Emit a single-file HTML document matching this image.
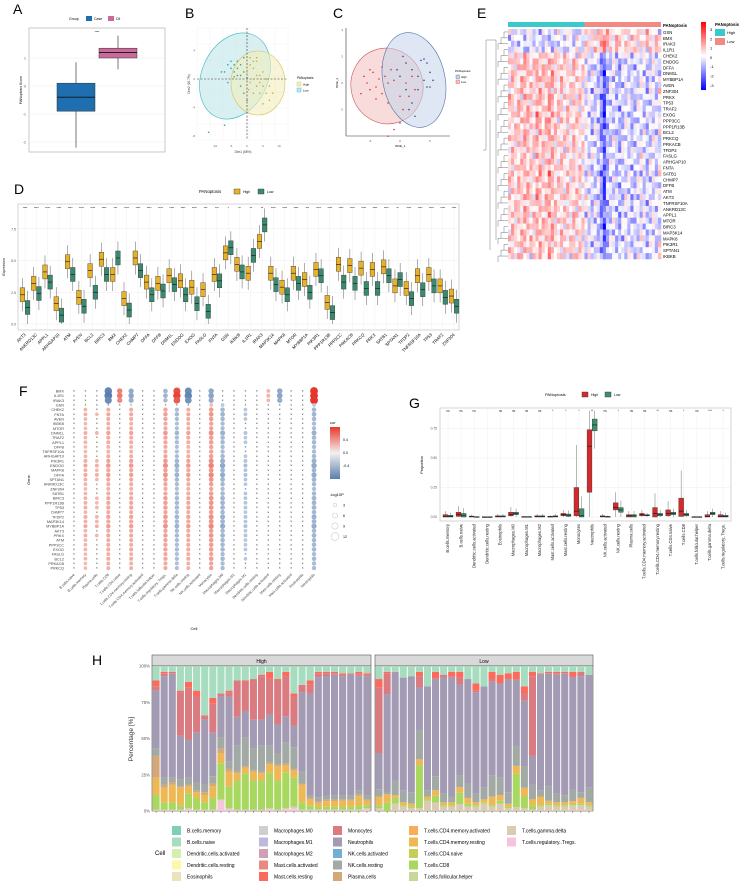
<!DOCTYPE html>
<html><head><meta charset="utf-8"><style>
html,body{margin:0;padding:0;background:#fff;}
svg{display:block;font-family:"Liberation Sans",sans-serif;}
</style></head><body>
<svg id="fig" width="752" height="885" viewBox="0 0 752 885" xmlns="http://www.w3.org/2000/svg"></svg>
<script>
// ---------- DATA ----------
const groupsA=["Case","Ctl"];
const aQ1=[-0.9,1.0], aMed=[-0.4,1.2], aQ3=[0.1,1.35], aLo=[-2.2,0.6], aHi=[0.85,1.8];
const bHigh=[[1,2],[2,1.5],[3,2.5],[4,0.5],[5,-1],[6,-2],[7,-3],[3,-1],[2,0],[1,-0.5],[4,-2],[5,1],[6,0],[0,1],[1,3],[2,-2],[3,0.5],[5,-3.5],[7,-1],[8,-2],[0.5,-1.5],[3,3],[4,-0.5],[2,2.5]];
const bLow=[[-6,2],[-7,1],[-5,1.5],[-4,1],[-3,0.5],[-2,2],[-1,1],[-3,1.5],[-4,0.3],[-2,0.5],[-1,3],[0,0.2],[-5,2.5],[-8,1],[-6,-0.5],[-2,-1],[-1,-2],[0,-3],[-12,-7.5],[-7,-6.5],[-3,2.5],[-4,2]];
const cRed=[[-5,1],[-6,0.5],[-4.5,0.8],[-5.5,0],[-4,-0.3],[-6.5,-0.8],[-3.5,0.3],[-5,-0.5],[-2.5,0.5],[-2,0],[-3,-0.8],[-1.5,1],[-1,0.2],[-2,-1.5],[0,-1],[1,0],[1.5,-1],[2,0.5],[-3,1.2],[-1,-3.5],[-2,-4],[0.5,-2],[-4,-1.2],[2.5,-0.5]];
const cBlue=[[0.5,2],[1,1.5],[2,1],[3,0.5],[4,1.8],[4.5,1.5],[5,0.8],[5.5,0.2],[4,0.2],[4.5,-0.3],[-0.5,1],[0,0.5],[1,-0.5],[2,-1.5],[2.5,-2.5],[3,-0.5],[5,-0.3],[3.5,1.7],[1.5,-2],[0,-3]];
const genesD=["AKT3","ANKRD13C","APPL1","ARHGAP10","ATM","AVEN","BCL2","BIRC3","BMX","CHEK2","CHMP7","DFFA","DFFB","DNM1L","ENDOG","EXOG","FASLG","FNTA","GSN","IKBKB","IL1R1","IRAK3","MAP3K14","MAPK8","MTOR","MYBBP1A","PIK3R1","PPP1R13B","PPP3CC","PRKACB","PRKCQ","PRKX","SATB1","SPTAN1","TFDP2","TNFRSF10A","TP53","TRAF2","ZNF304"];
const dHigh=[2.3,3.2,4.1,1.6,4.9,2.1,4.2,5.1,3.9,2.0,5.2,3.3,3.2,3.8,3.4,2.9,2.7,3.9,5.6,4.7,4.0,6.5,4.0,2.9,4.0,3.5,4.3,1.7,4.7,4.6,4.4,4.3,4.5,3.0,2.8,3.8,3.9,3.0,2.2];
const dLow=[1.3,2.4,3.3,0.7,3.9,1.4,2.5,3.9,5.2,1.1,4.2,2.3,2.6,3.1,2.3,1.6,1.0,3.4,6.0,4.1,5.4,7.8,3.1,2.3,3.2,2.5,3.8,0.9,3.3,3.2,2.8,2.8,3.8,3.5,2.0,2.7,3.0,2.1,1.4];
const dSig=["****","****","****","****","****","****","****","****","***","****","****","****","****","****","****","****","***","***","*","**","**","**","****","****","****","***","****","****","****","****","****","****","****","**","****","****","****","****","****"];
const genesE=["GSN","BMX","IRAK3","IL1R1","CHEK2","ENDOG","DFFA","DNM1L","MYBBP1A","AVEN","ZNF304","PRKX","TP53","TRAF2","EXOG","PPP3CC","PPP1R13B","BCL2","PRKCQ","PRKACB","TFDP2","FASLG","ARHGAP10","FNTA","SATB1","CHMP7","DFFB","ATM","AKT3","TNFRSF10A","ANKRD13C","APPL1","MTOR","BIRC3","MAP3K14","MAPK8","PIK3R1","SPTAN1","IKBKB"];
const eRowLoad=[-0.5,-0.6,-0.7,-0.6,0.6,0.8,0.9,0.8,0.9,0.8,0.7,0.9,0.8,0.8,0.9,0.9,0.8,0.8,0.8,0.8,0.7,0.6,0.7,0.8,0.9,0.7,0.8,0.8,0.9,0.7,0.8,0.8,0.8,0.8,0.8,0.8,0.7,0.7,0.6];
const eColScore=[0.6,0.8,0.5,0.9,0.7,1.2,1.0,0.6,0.5,1.3,1.1,0.7,0.9,1.4,1.2,0.6,0.5,0.8,0.4,0.7,0.3,0.9,0.5,0.6,0.3,-0.3,-0.5,-0.8,-0.6,-0.9,-1.8,-3,-1.2,-0.7,-0.5,-1.0,-1.3,-0.8,-0.4,-0.6,-1.1,-0.9,-0.5,-0.3,-0.7,-1.0,-0.6,-0.4,-0.8,-0.3];
const eRowJit=[0.6,-0.4,0.2,-0.7,0.4,0,-0.3];
const eColJit=[0.8,-0.5,0.3,0,-0.8,0.5,-0.2,0.6,-0.4];
const eNoise=[0.5,-0.6,0.2,0.9,-0.3,-0.9,0.4,0,0.7,-0.5,0.3,-0.2,0.6];
const genesF=["BMX","IL1R1","IRAK3","GSN","CHEK2","FNTA","AVEN","IKBKB","MTOR","DNM1L","TRAF2","APPL1","DFFB","TNFRSF10A","ARHGAP10","PIK3R1","ENDOG","MAPK8","DFFA","SPTAN1","ANKRD13C","ZNF304","SATB1","BIRC3","PPP1R13B","TP53","CHMP7","TFDP2","MAP3K14","MYBBP1A","AKT3","PRKX","ATM","PPP3CC","EXOG","FASLG","BCL2","PRKACB","PRKCQ"];
const cellsF=["B.cells.naive","B.cells.memory","Plasma.cells","T.cells.CD8","T.cells.CD4.naive","T.cells.CD4.memory.resting","T.cells.CD4.memory.activated","T.cells.follicular.helper","T.cells.regulatory..Tregs.","T.cells.gamma.delta","NK.cells.resting","NK.cells.activated","Monocytes","Macrophages.M0","Macrophages.M1","Macrophages.M2","Dendritic.cells.resting","Dendritic.cells.activated","Mast.cells.resting","Mast.cells.activated","Eosinophils","Neutrophils"];
const fCellCor=[0.05,0.15,0.12,0.2,0.06,0.2,0.03,0.03,0.25,-0.25,0.2,0.03,0.3,-0.3,0.05,-0.14,0.03,0.08,-0.06,0.03,-0.06,-0.3];
const fTopCor=[0.03,0.03,0.03,-0.55,0.3,-0.28,0.03,0.03,-0.2,0.5,-0.5,0.03,-0.3,0.03,0.03,0.03,0.03,0.1,-0.3,0.03,0.03,0.65];
const fRowLoad=[1.1,1.2,1.0,0.3,0.7,0.8,0.7,0.6,0.6,0.9,0.7,0.7,0.6,0.6,0.7,0.9,1.1,0.8,1.0,0.8,0.7,0.6,0.7,0.8,0.8,0.8,0.7,0.9,0.8,1.0,0.7,0.8,0.7,0.7,0.7,0.6,0.7,0.6,0.6];
const cellsG=["B.cells.memory","B.cells.naive","Dendritic.cells.activated","Dendritic.cells.resting","Eosinophils","Macrophages.M0","Macrophages.M1","Macrophages.M2","Mast.cells.activated","Mast.cells.resting","Monocytes","Neutrophils","NK.cells.activated","NK.cells.resting","Plasma.cells","T.cells.CD4.memory.activated","T.cells.CD4.memory.resting","T.cells.CD4.naive","T.cells.CD8","T.cells.follicular.helper","T.cells.gamma.delta","T.cells.regulatory..Tregs."];
const gHighQ1=[0,0.005,0,0,0,0.01,0,0,0,0.01,0.01,0.21,0,0.06,0,0.01,0,0.01,0.005,0,0,0];
const gHighMed=[0.005,0.02,0.002,0,0.003,0.02,0,0.003,0.002,0.02,0.05,0.6,0.003,0.08,0.01,0.02,0.03,0.03,0.05,0,0.005,0.005];
const gHighQ3=[0.02,0.04,0.008,0.002,0.01,0.04,0.004,0.01,0.006,0.03,0.25,0.74,0.01,0.12,0.02,0.03,0.08,0.06,0.16,0.003,0.02,0.02];
const gLowMed=[0.005,0.015,0,0,0.003,0.03,0,0.005,0.005,0.015,0.01,0.78,0.002,0.06,0.01,0.015,0.02,0.03,0.02,0,0.03,0.005];
const gLowQ3=[0.015,0.03,0.003,0.002,0.01,0.04,0.004,0.01,0.01,0.025,0.07,0.83,0.005,0.08,0.02,0.02,0.03,0.04,0.03,0.003,0.04,0.015];
const gSig=["ns","ns","ns","","ns","ns","ns","ns","*","*","*","**","ns","*","ns","ns","**","ns","*","ns","***","*"];
const hNeutH=[40,70,72,30,26,34,45,30,28,45,20,18,20,18,22,20,18,15,55,70,88,85,85,82,83,85,82];
const hMonoH=[3,2,0,30,36,25,3,20,2,3,25,20,28,30,25,30,28,20,5,6,3,2,1,1,1,2,1];
const hCd8H=[10,5,5,3,10,8,5,8,25,15,20,25,20,20,25,20,25,20,5,3,2,2,2,2,2,3,2];
const hCd4H=[12,10,12,12,5,4,5,8,7,10,5,4,6,5,6,10,5,5,12,4,3,4,4,4,4,7,3];
const hNkH=[5,5,3,5,5,6,5,5,8,5,18,20,15,18,12,8,15,15,8,2,3,3,3,3,3,3,3];
const hPlasmaH=[15,2,2,1,1,1,2,2,3,2,1,1,1,1,1,1,1,1,1,1,1,1,1,1,1,1,1];
const hTregH=[0,0,0,0,1,0,0,0,7,1,0,0,0,0,1,0,1,2,0,0,0,0,0,0,0,0,1];
const hMastH=[4,1,1,1,4,4,0,4,0,1,0,1,0,1,5,1,3,2,0,3,1,1,1,1,0,1,1];
const hNeutL=[25,70,75,78,80,30,72,70,80,82,65,72,70,70,65,65,78,50,45,20,80,78,82,85,80,80,78];
const hMonoL=[45,15,0,0,0,8,0,0,2,1,5,0,1,0,2,0,0,0,5,55,1,0,1,0,1,3,0];
const hCd8L=[2,6,4,1,1,30,1,5,1,1,8,2,1,1,1,2,1,25,8,3,1,1,1,1,1,1,1];
const hCd4L=[6,6,2,2,2,4,2,4,2,2,4,4,2,2,6,4,2,6,6,4,6,2,2,2,2,4,2];
const hNkL=[5,2,10,8,8,20,4,10,6,4,8,10,6,8,15,12,8,15,15,10,4,10,6,5,8,4,10];
const hGdL=[2,0,5,3,2,2,7,6,3,3,5,3,3,5,3,5,2,3,2,1,3,4,3,3,4,4,3];
const hMastL=[6,1,0,0,0,3,0,5,0,3,4,0,5,0,5,6,4,6,5,3,0,1,1,1,3,0,0];
const yTicksD=[0,2.5,5,7.5];
const yTicksG=[0,0.25,0.5,0.75];
const yTicksH=[0,25,50,75,100];

// ---------- HELPERS ----------
const NS="http://www.w3.org/2000/svg";
const svg=document.getElementById('fig');
function el(tag,a,txt,p){const e=document.createElementNS(NS,tag);for(const k in a)e.setAttribute(k,a[k]);if(txt!==undefined)e.textContent=txt;(p||svg).appendChild(e);return e;}
function grp(name){const g=el('g',{});return g;}
function label(t,x,y,g){const e=el('text',{x:x,y:y,'font-size':14},t,g);}

// ---------- PANEL A ----------
{const g=grp('panel-a');label('A',13,14,g);
const ay=v=>86-v*28;
el('rect',{x:29,y:28,width:136,height:124,fill:'#fff',stroke:'#bbb','stroke-width':0.8},undefined,g);
[-2,-1,0,1].forEach(v=>{el('line',{x1:29,x2:165,y1:ay(v),y2:ay(v),stroke:'#eee','stroke-width':0.6},undefined,g);const t=el('text',{x:26,y:ay(v)+1.5,'font-size':3.5,'text-anchor':'end',fill:'#555'},v,g);});
const cols=['#1f6fb0','#c96a9b'];const xs=[76,118];
groupsA.forEach((gn,i)=>{el('line',{x1:xs[i],x2:xs[i],y1:ay(aLo[i]),y2:ay(aHi[i]),stroke:'#555','stroke-width':0.8},undefined,g);
const b=el('rect',{x:xs[i]-19,y:ay(aQ3[i]),width:38,height:ay(aQ1[i])-ay(aQ3[i]),fill:cols[i],stroke:'#333','stroke-width':0.5},undefined,g);
el('line',{x1:xs[i]-19,x2:xs[i]+19,y1:ay(aMed[i]),y2:ay(aMed[i]),stroke:'#111','stroke-width':0.9},undefined,g);});
el('text',{x:97,y:33,'font-size':3,'text-anchor':'middle'},'****',g);
const yt=el('text',{x:22,y:90,'font-size':3.5,'text-anchor':'middle',transform:'rotate(-90 22 90)'},'PANoptosis Score',g);
const lg=el('g',{},undefined,g);
el('text',{x:69,y:20,'font-size':3.5},'Group',lg);el('rect',{x:86,y:16,width:6,height:5,fill:cols[0]},undefined,lg);el('text',{x:94,y:20,'font-size':3.5},'Case',lg);el('rect',{x:108,y:16,width:6,height:5,fill:cols[1]},undefined,lg);el('text',{x:116,y:20,'font-size':3.5},'Ctl',lg);}

// ---------- PANEL B ----------
{const g=grp('panel-b-pca');label('B',185,18,g);
const bx=v=>247+v*3.2,by=v=>79-v*7.1;
for(let i=0;i<8;i++){el('line',{x1:197+i*13,x2:197+i*13,y1:28,y2:140,stroke:'#f0f0f0','stroke-width':0.5},undefined,g);el('line',{x1:197,x2:288,y1:28+i*16,y2:28+i*16,stroke:'#f0f0f0','stroke-width':0.5},undefined,g);}
const e1=el('ellipse',{cx:235,cy:76,rx:33,ry:45,transform:'rotate(25 235 76)',fill:'#bfe6ea',stroke:'#3ab7c4','stroke-width':0.6,'fill-opacity':0.6},undefined,g);
const e2=el('ellipse',{cx:258,cy:83,rx:27,ry:32,fill:'#f2ecbc',stroke:'#d6c35a','stroke-width':0.6,'fill-opacity':0.6},undefined,g);
el('line',{x1:247,x2:247,y1:28,y2:140,stroke:'#333','stroke-dasharray':'2,1.5','stroke-width':0.6},undefined,g);
el('line',{x1:197,x2:288,y1:79,y2:79,stroke:'#333','stroke-dasharray':'2,1.5','stroke-width':0.6},undefined,g);
bHigh.forEach(p=>{const c=el('circle',{cx:bx(p[0]),cy:by(p[1]),r:0.8,fill:'#c9b03a'},undefined,g);});
bLow.forEach(p=>{const c=el('circle',{cx:bx(p[0]),cy:by(p[1]),r:0.8,fill:'#2aa4b0'},undefined,g);});
[-10,-5,0,5,10].forEach(v=>el('text',{x:bx(v),y:147,'font-size':3,'text-anchor':'middle',fill:'#666'},v,g));
[4,0,-4,-8].forEach(v=>el('text',{x:195,y:by(v)+1,'font-size':3,'text-anchor':'end',fill:'#666'},v,g));
el('text',{x:243,y:153,'font-size':3.2,'text-anchor':'middle',fill:'#444'},'Dim1 (68%)',g);
el('text',{x:190,y:84,'font-size':3.2,'text-anchor':'middle',fill:'#444',transform:'rotate(-90 190 84)'},'Dim2 (16.7%)',g);
el('text',{x:297,y:79,'font-size':3.2},'PANoptosis',g);el('rect',{x:297,y:82,width:4,height:4,fill:'#f2ecbc',stroke:'#d6c35a','stroke-width':0.4},undefined,g);el('text',{x:303,y:85.5,'font-size':3},'High',g);el('rect',{x:297,y:88,width:4,height:4,fill:'#bfe6ea',stroke:'#3ab7c4','stroke-width':0.4},undefined,g);el('text',{x:303,y:91.5,'font-size':3},'Low',g);}

// ---------- PANEL C ----------
{const g=grp('panel-c-tsne');label('C',333,18,g);
const cx=v=>400+v*6,cy=v=>83-v*13.3;
el('line',{x1:346,x2:346,y1:28,y2:136,stroke:'#333','stroke-width':0.6},undefined,g);el('line',{x1:346,x2:450,y1:136,y2:136,stroke:'#333','stroke-width':0.6},undefined,g);
const er=el('ellipse',{cx:387,cy:86,rx:36,ry:38,transform:'rotate(-15 387 86)',fill:'#f4c4c4','fill-opacity':0.6,stroke:'#d05454','stroke-width':0.6},undefined,g);
const eb=el('ellipse',{cx:414,cy:80,rx:31,ry:48,transform:'rotate(-12 414 80)',fill:'#c2d3ea','fill-opacity':0.55,stroke:'#4f73a8','stroke-width':0.6},undefined,g);
cRed.forEach(p=>{const c=el('circle',{cx:cx(p[0]),cy:cy(p[1]),r:0.8,fill:'#d33'},undefined,g);});
cBlue.forEach(p=>{const c=el('circle',{cx:cx(p[0]),cy:cy(p[1]),r:0.8,fill:'#2d4f8a'},undefined,g);});
[-5,0,5].forEach(v=>el('text',{x:cx(v),y:142,'font-size':3,'text-anchor':'middle',fill:'#555'},v,g));
[4,2,0,-2].forEach(v=>el('text',{x:343,y:cy(v)+1,'font-size':3,'text-anchor':'end',fill:'#555'},v,g));
el('text',{x:400,y:147,'font-size':3,'text-anchor':'middle'},'tSNE_1',g);
el('text',{x:338,y:83,'font-size':3,'text-anchor':'middle',transform:'rotate(-90 338 83)'},'tSNE_2',g);
el('text',{x:455,y:72,'font-size':3},'PANoptosis',g);el('rect',{x:456,y:75,width:3.5,height:3.5,fill:'#c2d3ea',stroke:'#4f73a8','stroke-width':0.4},undefined,g);el('text',{x:461,y:78,'font-size':2.8},'High',g);el('rect',{x:456,y:80,width:3.5,height:3.5,fill:'#f4c4c4',stroke:'#d05454','stroke-width':0.4},undefined,g);el('text',{x:461,y:83,'font-size':2.8},'Low',g);}

// ---------- PANEL E ----------
{const g=grp('panel-e-heatmap');label('E',477,18,g);
const x0=508,cw=153/eColScore.length,y0=29,rh=230/genesE.length;
const a1=el('rect',{x:x0,y:22,width:cw*25,height:5,fill:'#3cc9cc'},undefined,g);
const a2=el('rect',{x:x0+cw*25,y:22,width:cw*25,height:5,fill:'#f08a82'},undefined,g);
function col(v){v=Math.max(-3,Math.min(3,v));if(v>=0){const t=v/3;return `rgb(255,${Math.round(255-225*t)},${Math.round(255-225*t)})`;}const t=-v/3;return `rgb(${Math.round(255-255*t)},${Math.round(255-255*t)},255)`;}
genesE.forEach((gn,r)=>{eColScore.forEach((s,c)=>{const v=eRowLoad[r]*s*0.9+eRowJit[r%7]*eColJit[c%9]+eNoise[(r*5+c*7)%13];const rc=el('rect',{x:x0+c*cw,y:y0+r*rh,width:cw+0.3,height:rh+0.3,fill:col(v)},undefined,g);});
const t=el('text',{x:663,y:y0+r*rh+rh-1,'font-size':4.3},gn,g);
el('path',{d:`M${x0} ${y0+r*rh+rh/2}H${x0-4-(r%3)*3}V${y0+r*rh+rh*1.5}`,fill:'none',stroke:'#555','stroke-width':0.4},undefined,g);});
el('path',{d:`M496 40V240M496 40H486V150H483M490 120V250`,fill:'none',stroke:'#555','stroke-width':0.4},undefined,g);
el('text',{x:663,y:27,'font-size':4.3,'font-weight':'bold'},'PANoptosis',g);
const lg=el('g',{},undefined,g);
const gr=el('linearGradient',{id:'gE',x1:0,y1:0,x2:0,y2:1},undefined,el('defs',{},undefined,lg));
[['0','#f00'],['0.5','#fff'],['1','#00f']].forEach(s=>el('stop',{offset:s[0],'stop-color':s[1]},undefined,gr));
el('rect',{x:701,y:22,width:5,height:68,fill:'url(#gE)'},undefined,lg);
[3,2,1,0,-1,-2,-3].forEach((v,i)=>el('text',{x:710,y:31+i*9.3,'font-size':4},v,lg));
el('text',{x:715,y:26,'font-size':4.3,'font-weight':'bold'},'PANoptosis',lg);
el('rect',{x:715,y:29,width:10,height:7,fill:'#3cc9cc'},undefined,lg);el('text',{x:727,y:34,'font-size':4},'High',lg);
el('rect',{x:715,y:38,width:10,height:7,fill:'#f08a82'},undefined,lg);el('text',{x:727,y:43,'font-size':4},'Low',lg);}

// ---------- PANEL D ----------
{const g=grp('panel-d-boxplot');label('D',14,194,g);
const X0=18,X1=459,Y0=204,Y1=330;const dy=v=>324-v*12.7;const dx=i=>25+i*11.29;
el('rect',{x:X0,y:Y0,width:X1-X0,height:Y1-Y0,fill:'#fff',stroke:'#bbb','stroke-width':0.6},undefined,g);
yTicksD.forEach(v=>{el('line',{x1:X0,x2:X1,y1:dy(v),y2:dy(v),stroke:'#ececec','stroke-width':0.5},undefined,g);const t=el('text',{x:16,y:dy(v)+1.5,'font-size':3.5,'text-anchor':'end',fill:'#555'},v.toFixed(1),g);});
genesD.forEach((gn,i)=>{const x=dx(i);el('line',{x1:x,x2:x,y1:Y0,y2:Y1,stroke:'#f0f0f0','stroke-width':0.5},undefined,g);
[[dHigh[i],x-2.6,'#e8b12a','high'],[dLow[i],x+2.6,'#3a8a70','low']].forEach(b=>{const m=b[0];
el('line',{x1:b[1],x2:b[1],y1:dy(m+1.3),y2:dy(Math.max(0,m-1.3)),stroke:'#777','stroke-width':0.6},undefined,g);
const r=el('rect',{x:b[1]-2.3,y:dy(m+0.55),width:4.6,height:dy(m-0.55)-dy(m+0.55),fill:b[2],stroke:'#333','stroke-width':0.4},undefined,g);
el('line',{x1:b[1]-2.3,x2:b[1]+2.3,y1:dy(m),y2:dy(m),stroke:'#111','stroke-width':0.6},undefined,g);});
el('text',{x:x,y:209,'font-size':3,'text-anchor':'middle'},dSig[i],g);
const t=el('text',{x:x+1,y:335,'font-size':4.3,'text-anchor':'end',transform:`rotate(-45 ${x+1} 335)`},gn,g);});
el('text',{x:5,y:267,'font-size':3.5,'text-anchor':'middle',transform:'rotate(-90 5 267)'},'Expression',g);
const lg=el('g',{},undefined,g);
el('text',{x:199,y:193,'font-size':4.3},'PANoptosis',lg);el('rect',{x:234,y:189,width:6,height:5,fill:'#e8b12a',stroke:'#333','stroke-width':0.4},undefined,lg);el('text',{x:243,y:193,'font-size':3.5},'High',lg);el('rect',{x:258,y:189,width:6,height:5,fill:'#3a8a70',stroke:'#333','stroke-width':0.4},undefined,lg);el('text',{x:267,y:193,'font-size':3.5},'Low',lg);}

// ---------- PANEL F ----------
{const g=grp('panel-f-dotplot');label('F',19,396,g);
const fx=i=>74+i*11.43,fy=r=>391+r*4.66;
genesF.forEach((gn,r)=>{const t=el('text',{x:64,y:fy(r)+1.5,'font-size':3.8,'text-anchor':'end',fill:'#444'},gn,g);
cellsF.forEach((cn,c)=>{const base=r<3?fTopCor[c]:fCellCor[c];const v=base*fRowLoad[r];
if(Math.abs(v)<0.09){const x=el('text',{x:fx(c),y:fy(r)+1.1,'font-size':3.3,'text-anchor':'middle',fill:'#222'},'×',g);}
else{const t2=Math.min(1,Math.abs(v)/0.65);const fill=v>0?`rgb(${Math.round(245-15*t2)},${Math.round(205-150*t2)},${Math.round(195-150*t2)})`:`rgb(${Math.round(200-110*t2)},${Math.round(212-85*t2)},${Math.round(230-55*t2)})`;
const d=el('circle',{cx:fx(c),cy:fy(r),r:1.5+2.4*t2,fill:fill},undefined,g);}});});
cellsF.forEach((cn,c)=>{const t=el('text',{x:fx(c)+1,y:575,'font-size':3.6,'text-anchor':'end',fill:'#444',transform:`rotate(-45 ${fx(c)+1} 575)`},cn,g);});
el('text',{x:194,y:630,'font-size':4,'text-anchor':'middle'},'Cell',g);
el('text',{x:30,y:480,'font-size':4,'text-anchor':'middle',transform:'rotate(-90 30 480)'},'Gene',g);
const lg=el('g',{},undefined,g);
const gr=el('linearGradient',{id:'gF',x1:0,y1:0,x2:0,y2:1},undefined,el('defs',{},undefined,lg));
[['0','#e8382d'],['0.5','#f4f0f0'],['1','#5a7fab']].forEach(s=>el('stop',{offset:s[0],'stop-color':s[1]},undefined,gr));
el('text',{x:330,y:424,'font-size':4},'cor',lg);el('rect',{x:330,y:427,width:10,height:52,fill:'url(#gF)'},undefined,lg);
[['0.4',441],['0.0',454],['-0.4',467]].forEach(l=>el('text',{x:343,y:l[1],'font-size':3.6},l[0],lg));
el('text',{x:330,y:496,'font-size':4},'-log10P',lg);
[3,6,9,12].forEach((v,i)=>{el('circle',{cx:335,cy:505+i*10.5,r:1.8+i*0.7,fill:'none',stroke:'#ccc','stroke-width':0.6},undefined,lg);el('text',{x:343,y:506.5+i*10.5,'font-size':3.6},v,lg);});}

// ---------- PANEL G ----------
{const g=grp('panel-g-boxplot');label('G',409,408,g);
const X0=440,X1=731,Y0=408,Y1=521;const gy=v=>517-v*118;const gx=i=>448+i*13.1;
el('rect',{x:X0,y:Y0,width:X1-X0,height:Y1-Y0,fill:'#fff',stroke:'#bbb','stroke-width':0.6},undefined,g);
yTicksG.forEach(v=>{el('line',{x1:X0,x2:X1,y1:gy(v),y2:gy(v),stroke:'#ececec','stroke-width':0.5},undefined,g);const t=el('text',{x:437,y:gy(v)+1.2,'font-size':3.3,'text-anchor':'end',fill:'#555'},v.toFixed(2),g);});
cellsG.forEach((cn,i)=>{const x=gx(i);el('line',{x1:x,x2:x,y1:Y0,y2:Y1,stroke:'#f0f0f0','stroke-width':0.5},undefined,g);
const hi=[gHighQ1[i],gHighMed[i],gHighQ3[i]];const lo=[Math.max(0,gLowMed[i]-(gLowQ3[i]-gLowMed[i])),gLowMed[i],gLowQ3[i]];
[[hi,x-2.6,'#d42a2a','high'],[lo,x+2.6,'#3d8f6e','low']].forEach(b=>{const q=b[0];const iqr=q[2]-q[0];
el('line',{x1:b[1],x2:b[1],y1:gy(Math.min(0.9,q[2]+1.5*iqr)),y2:gy(Math.max(0,q[0]-1.5*iqr)),stroke:'#888','stroke-width':0.6},undefined,g);
const r=el('rect',{x:b[1]-2.4,y:gy(q[2]),width:4.8,height:Math.max(0.8,gy(q[0])-gy(q[2])),fill:b[2],stroke:'#333','stroke-width':0.4},undefined,g);
el('line',{x1:b[1]-2.4,x2:b[1]+2.4,y1:gy(q[1]),y2:gy(q[1]),stroke:'#111','stroke-width':0.6},undefined,g);});
el('text',{x:x,y:412,'font-size':3.2,'text-anchor':'middle',fill:'#333'},gSig[i],g);
const t=el('text',{x:x+1.2,y:524,'font-size':4.2,'text-anchor':'end',fill:'#222',transform:`rotate(-90 ${x+1.2} 524)`},cn,g);});
el('text',{x:423,y:465,'font-size':3.8,'text-anchor':'middle',transform:'rotate(-90 423 465)'},'Proportion',g);
const lg=el('g',{},undefined,g);
el('text',{x:545,y:396,'font-size':4},'PANoptosis',lg);el('rect',{x:582,y:392,width:6,height:5,fill:'#d42a2a',stroke:'#333','stroke-width':0.4},undefined,lg);el('text',{x:591,y:396,'font-size':3.5},'High',lg);el('rect',{x:605,y:392,width:6,height:5,fill:'#3d8f6e',stroke:'#333','stroke-width':0.4},undefined,lg);el('text',{x:614,y:396,'font-size':3.5},'Low',lg);}

// ---------- PANEL H ----------
{const g=grp('panel-h-stacked-bars');label('H',92,665,g);
const colors={"B.cells.memory":"#7fcdbb","B.cells.naive":"#a8dcc0","Dendritic.cells.activated":"#d6efb0","Dendritic.cells.resting":"#fff7a8","Eosinophils":"#ece3b8","Macrophages.M0":"#cfcfcf","Macrophages.M1":"#c0b8dc","Macrophages.M2":"#cf9fb2","Mast.cells.activated":"#e88a80","Mast.cells.resting":"#fb6a5a","Monocytes":"#d97b80","Neutrophils":"#a29bb3","NK.cells.activated":"#72aed6","NK.cells.resting":"#a3aaa5","Plasma.cells":"#d4a878","T.cells.CD4.memory.activated":"#f9ac5a","T.cells.CD4.memory.resting":"#eeb855","T.cells.CD4.naive":"#c8cc58","T.cells.CD8":"#a8d860","T.cells.follicular.helper":"#c7d69a","T.cells.gamma.delta":"#dccbb4","T.cells.regulatory..Tregs.":"#f8c3dc"};
const hy=v=>811-v*1.45;
function panel(x0,x1,name,comp){const n=comp.neut.length;const bw=(x1-x0)/n;
el('rect',{x:x0,y:655,width:x1-x0,height:11,fill:'#d9d9d9',stroke:'#555','stroke-width':0.6},undefined,g);el('text',{x:(x0+x1)/2,y:663,'font-size':5,'text-anchor':'middle'},name,g);
el('rect',{x:x0,y:666,width:x1-x0,height:145,fill:'#fff',stroke:'#555','stroke-width':0.6},undefined,g);
for(let i=0;i<n;i++){const seg=[["T.cells.regulatory..Tregs.",comp.treg[i]],["T.cells.gamma.delta",comp.gd[i]],["T.cells.CD8",comp.cd8[i]],["T.cells.CD4.memory.resting",comp.cd4[i]],["Plasma.cells",comp.plasma[i]],["NK.cells.resting",comp.nk[i]],["Neutrophils",comp.neut[i]],["Monocytes",comp.mono[i]],["Mast.cells.resting",comp.mast[i]]];
let s=0;seg.forEach(z=>s+=z[1]);const k=s>96?96/s:1;seg.forEach(z=>z[1]*=k);s*=k;seg.push(["B.cells.naive",100-s]);let acc=0;
seg.forEach(z=>{if(z[1]<=0)return;const r=el('rect',{x:x0+i*bw+0.5,y:hy(acc+z[1]),width:bw-1,height:z[1]*1.45,fill:colors[z[0]]},undefined,g);acc+=z[1];});
el('line',{x1:x0+i*bw+bw/2,x2:x0+i*bw+bw/2,y1:811,y2:813,stroke:'#333','stroke-width':0.4},undefined,g);}}
panel(152,371,'High',{neut:hNeutH,mono:hMonoH,cd8:hCd8H,cd4:hCd4H,nk:hNkH,plasma:hPlasmaH,treg:hTregH,gd:hTregH.map(()=>1),mast:hMastH});
panel(375,593,'Low',{neut:hNeutL,mono:hMonoL,cd8:hCd8L,cd4:hCd4L,nk:hNkL,plasma:hNeutL.map(()=>0),treg:hNeutL.map(()=>0),gd:hGdL,mast:hMastL});
yTicksH.forEach(v=>{const t=el('text',{x:150,y:hy(v)+1.5,'font-size':4.3,'text-anchor':'end',fill:'#555'},v+'%',g);});
el('text',{x:133,y:739,'font-size':6.5,'text-anchor':'middle',fill:'#333',transform:'rotate(-90 133 739)'},'Percentage [%]',g);
const lg=el('g',{},undefined,g);
el('text',{x:155,y:855,'font-size':6},'Cell',lg);
const lx=[172,259,333,409,507];const ly=[826,837.5,849,860.5,872];
cellsG.forEach((cn,i)=>{const c=Math.floor(i/5),r=i%5;el('rect',{x:lx[c],y:ly[r],width:9,height:9,fill:colors[cn]},undefined,lg);el('text',{x:lx[c]+15,y:ly[r]+6.5,'font-size':5},cn,lg);});}
</script>
</body></html>
